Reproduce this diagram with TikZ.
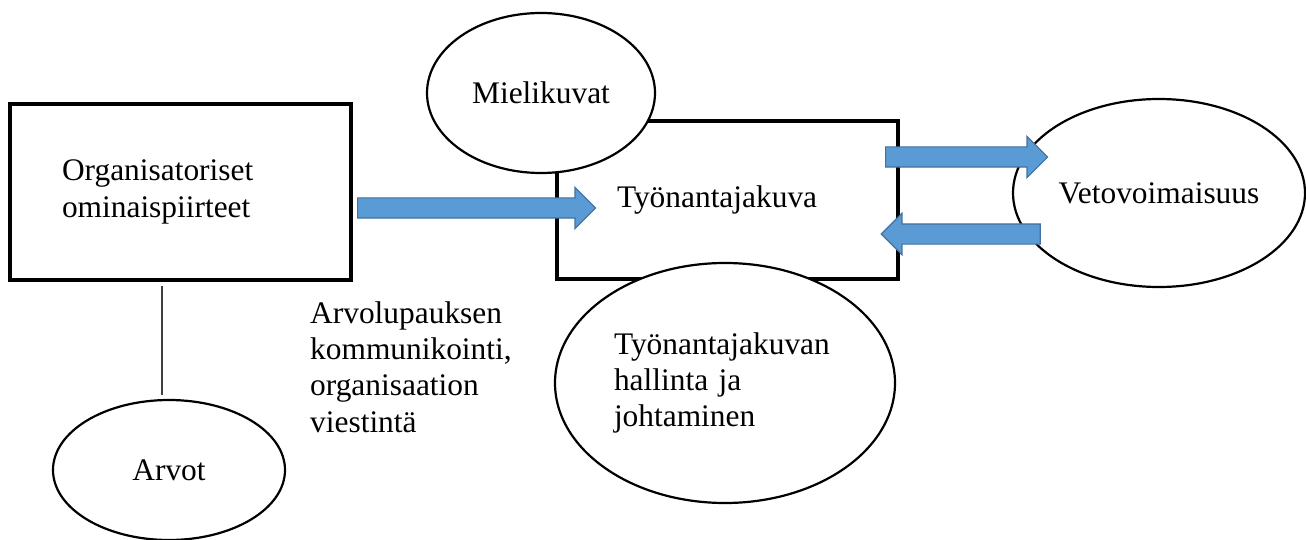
\documentclass[tikz,border=0pt]{standalone}
\usepackage{fontspec}
\setmainfont{Liberation Serif}
\usepackage{tikz}
\usetikzlibrary{calc}
\usetikzlibrary{shapes.geometric,shapes.arrows, positioning}
\definecolor{arrowfill}{HTML}{5B9BD5}
\definecolor{arrowedge}{HTML}{41719C}

\begin{document}
\begin{tikzpicture}[x=1pt,y=-1pt,
                    box/.style={rectangle,draw,line width=4pt,fill=white,inner sep=0pt},
                    bubble/.style={ellipse,draw,line width=2.2pt,fill=white,inner sep=0pt},
                    blockarrow/.style={single arrow,draw=arrowedge,fill=arrowfill,line width=1.2pt,
                      minimum height=#1,minimum width=40pt,single arrow head extend=10.5pt,
                      inner xsep=0pt,inner ysep=9.5pt,anchor=tail},
                    link/.style={draw=black!75,line width=1.3pt},
                    font=\fontsize{31.4}{36.2}\selectfont]
 \useasboundingbox (0,0) rectangle (1306,540);

%Boxes
 \node[box,minimum width=341pt,minimum height=176pt,inner xsep=52pt,text width=237pt,align=left]
   (org) at (180.5,192) {Organisatoriset\\ominaispiirteet};
 \node[box,minimum width=341pt,minimum height=158pt,inner xsep=60pt,text width=221pt,align=left]
   (kuva) at (727.5,200) {Työnantajakuva};

%Ellipses
 \node[bubble,minimum width=340pt,minimum height=240pt,text width=222pt,align=left]
   (hall) at (725,383) {Työnantajakuvan\\hallinta ja\\johtaminen};
 \node[bubble,minimum width=228pt,minimum height=160pt] (miel) at (541,93) {Mielikuvat};
 \node[bubble,minimum width=292pt,minimum height=188pt] (veto) at (1159,193) {Vetovoimaisuus};
 \node[bubble,minimum width=232pt,minimum height=140pt] (arvot) at (169,470) {Arvot};

%Free text
 \node[anchor=north west,inner sep=0pt,align=left] (viesti) at (310,301.5)
   {Arvolupauksen\\kommunikointi,\\organisaation\\viestintä};

%Connectors
 \draw[link] ($(org.south)+(-18.5,4)$) -- ($(arvot.north)+(-7,-4)$);

 \node[blockarrow=238pt] (toKuva) at ($(org.east)+(4,16)$) {};
 \node[blockarrow=162pt] (toVeto) at ($(kuva.east)+(-15,-43)$) {};
 \node[blockarrow=159pt,shape border rotate=180] (fromVeto) at ($(veto.west)+(29,41)$) {};

\end{tikzpicture}
\end{document}
